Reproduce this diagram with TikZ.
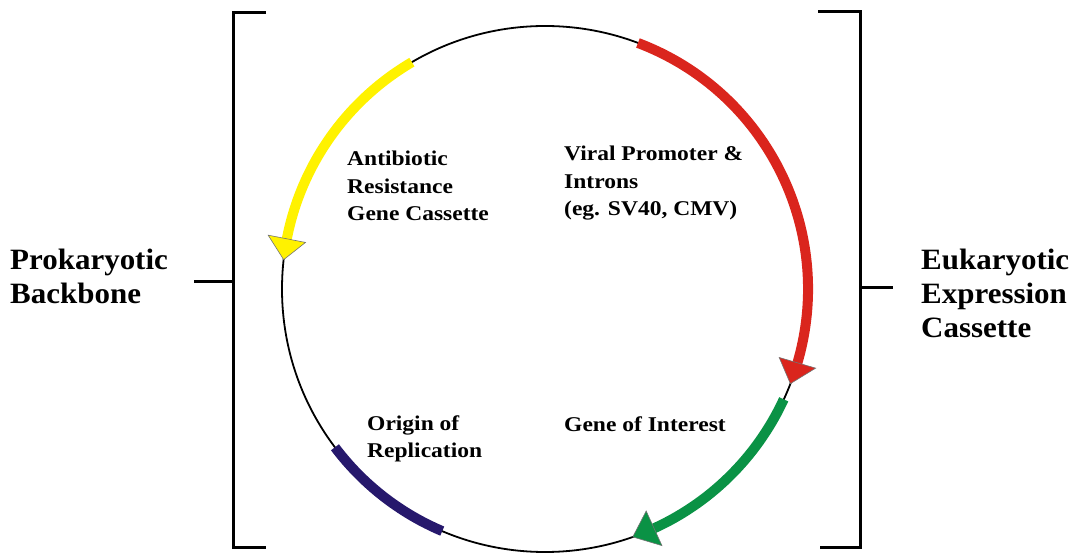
\documentclass[tikz,border=0pt]{standalone}
\usepackage{fontspec}
\setmainfont{Liberation Serif}
\newfontfamily\lblfont[FakeStretch=1.12]{Liberation Serif}
\newfontfamily\bigfont[FakeStretch=1.05]{Liberation Serif}
\definecolor{plyellow}{RGB}{255,242,0}
\definecolor{plred}{RGB}{218,37,29}
\definecolor{plgreen}{RGB}{10,146,69}
\definecolor{plblue}{RGB}{38,24,108}
\begin{document}
\begin{tikzpicture}[x=1pt,y=1pt,
  seg/.style={line width=10pt},
  backbone/.style={line width=1.8pt},
  bracket/.style={line width=3pt, line cap=butt, line join=miter},
  head/.style={draw=black!55, line width=0.6pt, line join=miter},
  inlabel/.style={anchor=base west, inner sep=0pt, align=left,
    font=\lblfont\bfseries\fontsize{21}{27.5}\selectfont},
  outlabel/.style={anchor=base west, inner sep=0pt, align=left,
    font=\bigfont\bfseries\fontsize{29.5}{34}\selectfont}]
\useasboundingbox (0,0) rectangle (1074,557);
\coordinate (C) at (545,268);
% plasmid backbone
\draw[backbone] (C) circle[radius=263];
% antibiotic resistance (yellow)
\draw[seg, plyellow] ([shift={(C)}]120.4:263) arc[start angle=120.4, end angle=170, radius=263];
\path[head, fill=plyellow] ([shift={(C)}]173.6:263) -- ([shift={(C)}]169:244) -- ([shift={(C)}]169:282) -- cycle;
% viral promoter (red)
\draw[seg, plred] ([shift={(C)}]69.3:263) arc[start angle=69.3, end angle=-17, radius=263];
\path[head, fill=plred] ([shift={(C)}]-21.1:263) -- ([shift={(C)}]-16.3:244) -- ([shift={(C)}]-16.3:282) -- cycle;
% gene of interest (green)
\draw[seg, plgreen] ([shift={(C)}]-24.8:263) arc[start angle=-24.8, end angle=-66.5, radius=263];
\path[head, fill=plgreen] ([shift={(C)}]-70.5:263) -- ([shift={(C)}]-65.5:244) -- ([shift={(C)}]-65.5:282) -- cycle;
% origin of replication (blue)
\draw[seg, plblue] ([shift={(C)}]217:263) arc[start angle=217, end angle=247, radius=263];
% brackets
\draw[bracket] (266,544) -- (233,544) -- (233,9) -- (266,9);
\draw[bracket] (194,275) -- (233,275);
\draw[bracket] (818,545) -- (860,545) -- (860,9) -- (820,9);
\draw[bracket] (860,269) -- (893,269);
% labels (anchored at the baseline of their last line)
\node[outlabel] (prok) at (10,253) {Prokaryotic\\Backbone};
\node[outlabel] (euk) at (921,219) {Eukaryotic\\Expression\\Cassette};
\node[inlabel] (abr) at (347,336) {Antibiotic\\Resistance\\Gene Cassette};
\node[inlabel] (vp) at (564,341) {Viral Promoter \&\\Introns\\(eg. SV40, CMV)};
\node[inlabel] (goi) at (564,125) {Gene of Interest};
\node[inlabel] (ori) at (367,99) {Origin of\\Replication};
\end{tikzpicture}
\end{document}
